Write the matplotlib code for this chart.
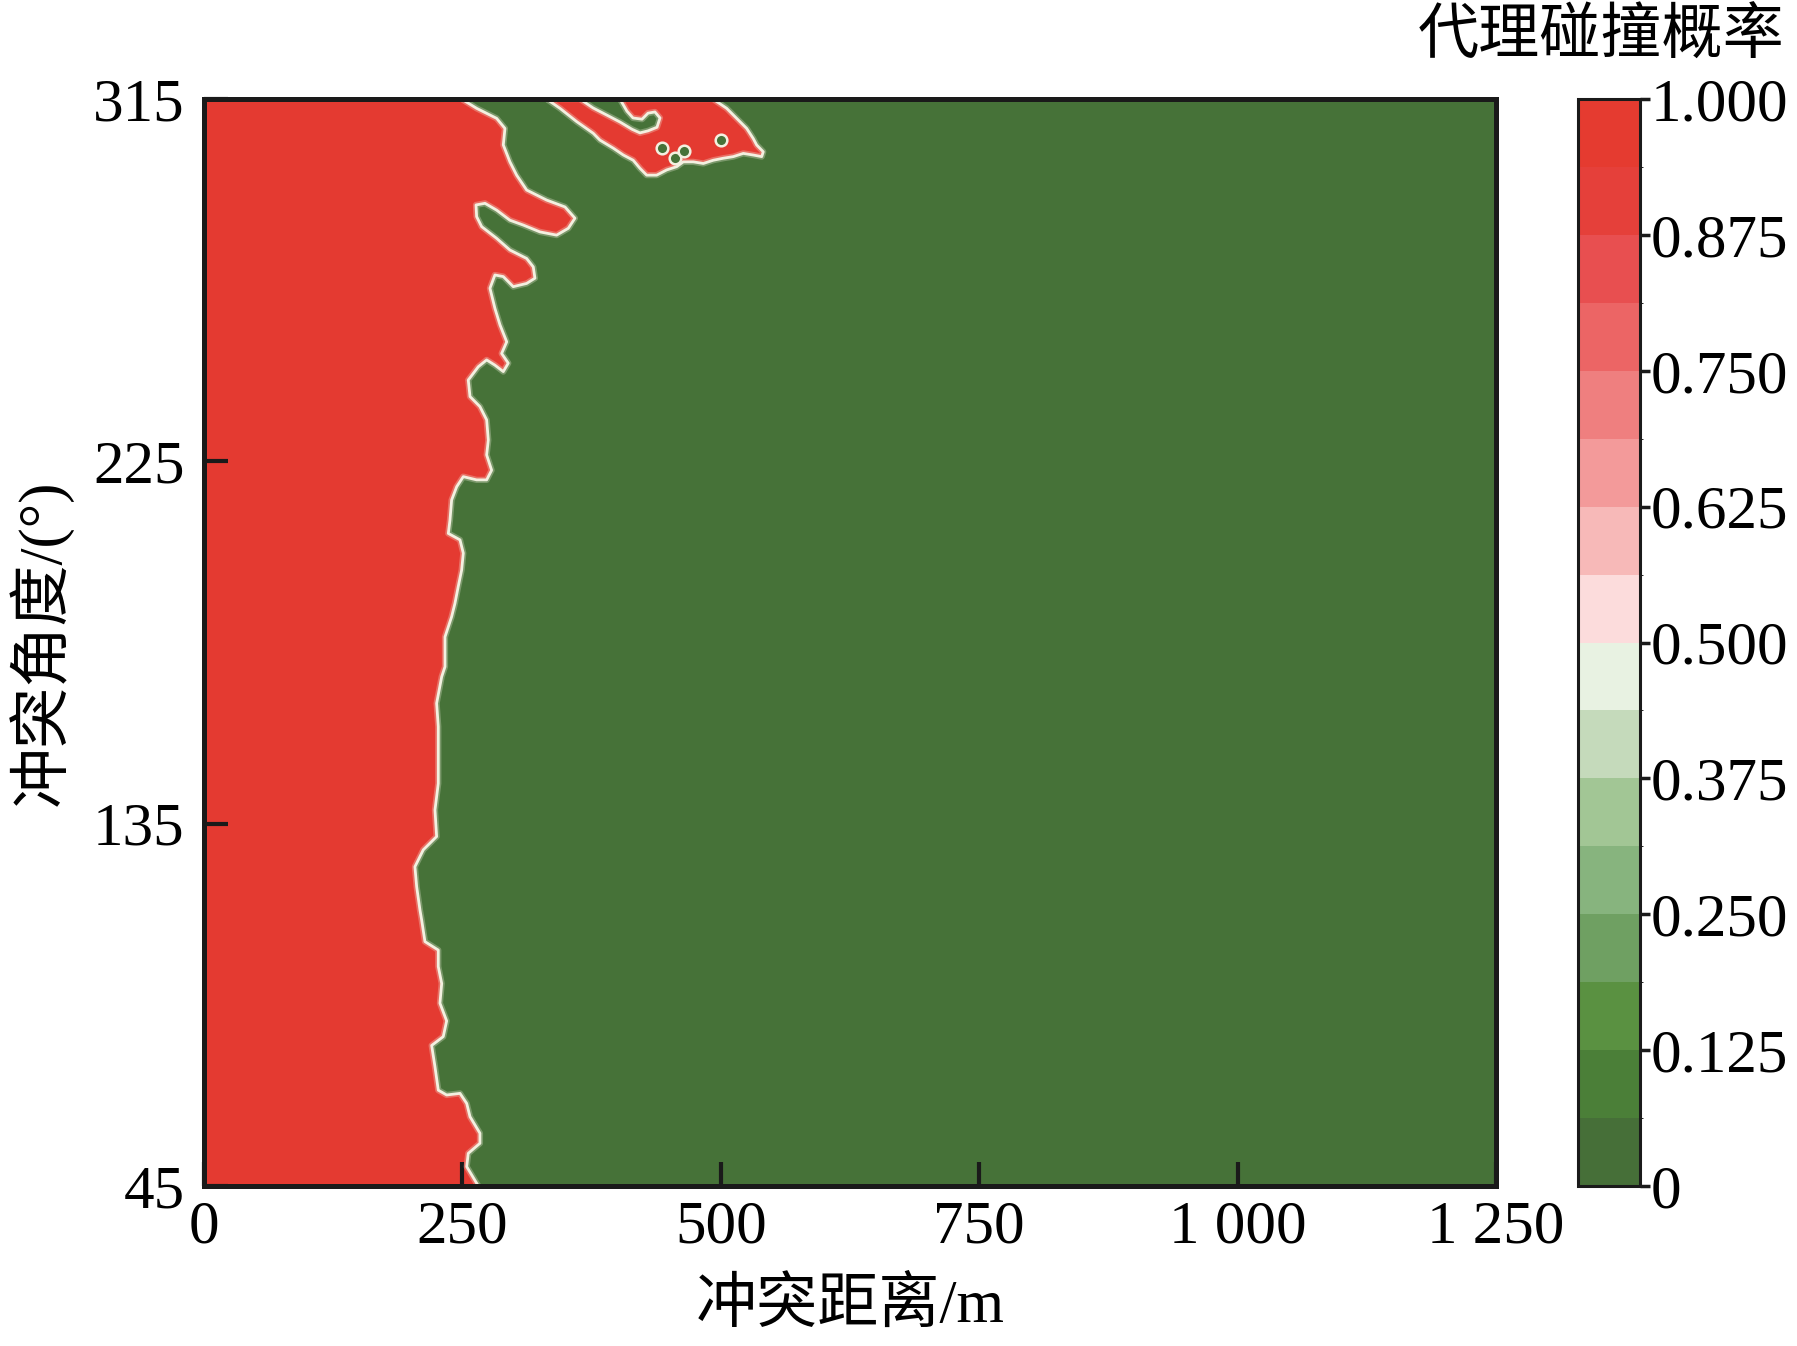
import numpy as np
import matplotlib
matplotlib.use("Agg")
import matplotlib.pyplot as plt
from matplotlib.colors import ListedColormap, BoundaryNorm
from matplotlib.cm import ScalarMappable

plt.rcParams["font.family"] = ["Liberation Serif", "Noto Sans CJK SC"]
plt.rcParams["axes.unicode_minus"] = False

# ── data ─────────────────────────────────────────────────────────────────────
# boundary of the main red region (collision distance m, conflict angle deg)
BOUND_DIST = [249.3, 263.8, 283.2, 291.2, 289.6, 296.0, 302.5, 312.2, 331.6, 349.3,
              358.9, 352.5, 341.2, 325.1, 308.9, 296.0, 283.2, 271.9, 263.2, 263.8,
              268.7, 283.2, 296.0, 312.2, 318.6, 320.2, 312.2, 299.2, 289.6, 281.5,
              276.7, 281.5, 286.4, 292.9, 288.0, 294.4, 289.6, 281.5, 273.5, 265.4,
              255.7, 257.4, 267.0, 273.5, 275.1, 273.5, 278.3, 273.5, 263.8, 250.9,
              244.5, 239.6, 238.0, 236.4, 247.7, 250.9, 249.3, 246.0, 242.8, 239.6,
              233.2, 233.2, 230.0, 225.1, 226.7, 226.7, 226.7, 223.5, 225.1, 212.2,
              204.1, 205.8, 209.0, 210.6, 213.8, 226.7, 226.7, 230.0, 228.3, 234.8,
              231.5, 220.3, 223.5, 226.7, 234.8, 247.7, 254.2, 257.4, 267.0, 267.0,
              255.7, 254.2, 265.4]
BOUND_ANGLE = [315.0, 312.7, 310.2, 307.7, 303.6, 299.4, 296.1, 292.4, 289.9, 288.2,
               285.4, 282.9, 281.2, 282.0, 283.7, 284.9, 287.4, 289.1, 288.7, 285.8,
               283.3, 280.4, 277.5, 275.4, 273.3, 270.5, 269.2, 268.4, 270.9, 271.3,
               268.0, 263.0, 258.9, 254.7, 251.8, 249.4, 247.3, 248.9, 250.2, 248.5,
               245.2, 241.1, 238.6, 235.3, 230.3, 226.6, 222.8, 220.4, 220.4, 221.2,
               218.7, 215.4, 210.4, 207.1, 205.5, 202.2, 198.0, 193.9, 189.7, 186.4,
               181.4, 174.0, 171.5, 164.9, 159.1, 152.5, 145.0, 138.4, 131.8, 128.5,
               124.3, 119.3, 113.5, 111.1, 105.7, 103.6, 99.5, 95.3, 90.4, 86.0,
               82.1, 79.9, 74.6, 68.8, 67.6, 68.0, 65.5, 62.2, 58.1, 55.6,
               53.1, 49.8, 45.0]

# red island near the top edge
ISLAND_DIST = [331.6, 363.8, 376.4, 389.9, 402.5, 414.1, 421.8, 429.6, 438.3, 441.2,
               436.3, 429.6, 423.8, 415.1, 409.2, 402.5, 492.5, 505.7, 515.4, 525.1,
               531.4, 534.7, 541.1, 539.6, 531.4, 521.8, 512.1, 502.4, 492.7, 483.1,
               473.4, 463.7, 457.3, 447.7, 438.0, 428.3, 421.8, 415.3, 405.7, 396.0,
               383.1, 376.6, 360.6, 344.4]
ISLAND_ANGLE = [315.0, 315.0, 312.8, 311.0, 309.3, 307.5, 306.6, 307.1, 308.0, 310.3,
                311.8, 311.5, 310.0, 310.3, 312.0, 315.0, 315.0, 312.7, 310.2, 307.7,
                305.2, 303.6, 301.9, 300.7, 301.1, 301.5, 300.7, 300.3, 299.8, 299.0,
                299.4, 299.4, 298.2, 297.4, 296.1, 296.1, 297.8, 299.8, 301.1, 302.8,
                304.8, 306.5, 309.4, 312.7]

# small low-probability holes inside the island
HOLE_DIST = [442.8, 455.7, 464.4, 499.9]
HOLE_ANGLE = [302.9, 300.4, 302.1, 304.8]

LEVELS = np.linspace(0, 1, 17)
BAND_COLORS = ["#466f38", "#4b7f38", "#5a9141", "#6fa062", "#87b47e", "#a2c695",
               "#c5dabb", "#e8f2e2", "#fcdcdc", "#f7b9b8", "#f39a9a", "#ef7f7f",
               "#ec6565", "#e84f50", "#e5403a", "#e53b30"]
CBAR_TICKS = [0, 0.125, 0.25, 0.375, 0.5, 0.625, 0.75, 0.875, 1.0]
CBAR_LABELS = ["0", "0.125", "0.250", "0.375", "0.500", "0.625", "0.750", "0.875", "1.000"]
X_TICKS = [0, 250, 500, 750, 1000, 1250]
X_LABELS = ["0", "250", "500", "750", "1 000", "1 250"]
Y_TICKS = [45, 135, 225, 315]

RED = "#e43a31"
GREEN = "#467238"
EDGE = "#f3f0e0"
FS = 44

fig = plt.figure(figsize=(17.97, 13.46), dpi=100)
ax = fig.add_axes([0.1135, 0.1189, 0.7190, 0.8075])
ax.set_facecolor(GREEN)

# main red region: left edge of plot up to the boundary
main_x = [0, 0] + BOUND_DIST
main_y = [45, 315] + BOUND_ANGLE
ax.fill(main_x, main_y, color=RED, lw=0, zorder=1)
ax.fill(ISLAND_DIST, ISLAND_ANGLE, color=RED, lw=0, zorder=1)

# pale transition line along the boundaries
for xs, ys in [(BOUND_DIST, BOUND_ANGLE), (ISLAND_DIST + ISLAND_DIST[:1], ISLAND_ANGLE + ISLAND_ANGLE[:1])]:
    ax.plot(xs, ys, color=EDGE, lw=4.5, alpha=0.3, zorder=2,
            solid_joinstyle="round", solid_capstyle="round")
    ax.plot(xs, ys, color=EDGE, lw=2.0, zorder=2,
            solid_joinstyle="round", solid_capstyle="round")

ax.scatter(HOLE_DIST, HOLE_ANGLE, s=70, facecolor=GREEN, edgecolor=EDGE, linewidths=1.8, zorder=3)

ax.set_xlim(0, 1250)
ax.set_ylim(45, 315)
ax.set_xticks(X_TICKS)
ax.set_xticklabels(X_LABELS)
ax.set_yticks(Y_TICKS)
ax.tick_params(direction="in", length=17, width=3, labelsize=FS, color="#1a1a1a")
ax.tick_params(axis="x", pad=10)
ax.tick_params(axis="y", pad=14)
for sp in ax.spines.values():
    sp.set_linewidth(3.6)
    sp.set_color("#1a1a1a")
    sp.set_zorder(5)

ax.set_xlabel("冲突距离/m", fontsize=FS, va="center")
ax.xaxis.set_label_coords(0.5, -0.111)
ax.set_ylabel("冲突角度/(°)", fontsize=FS, va="center")
ax.yaxis.set_label_coords(-0.127, 0.5)

# colour bar
cmap = ListedColormap(BAND_COLORS)
norm = BoundaryNorm(LEVELS, cmap.N)
cax = fig.add_axes([1578 / 1797, 0.1189, 62 / 1797, 0.8075])
sm = ScalarMappable(norm=norm, cmap=cmap)
cbar = fig.colorbar(sm, cax=cax, ticks=CBAR_TICKS)
cbar.ax.set_yticklabels(CBAR_LABELS)
cbar.ax.tick_params(direction="out", length=7, width=2.5, labelsize=FS, pad=1, color="#1a1a1a")
cbar.outline.set_linewidth(2.2)
cbar.outline.set_edgecolor("#1a1a1a")
fig.text(0.993, 0.972, "代理碰撞概率", fontsize=FS, ha="right", va="center")

fig.savefig("out.png", dpi=100)
